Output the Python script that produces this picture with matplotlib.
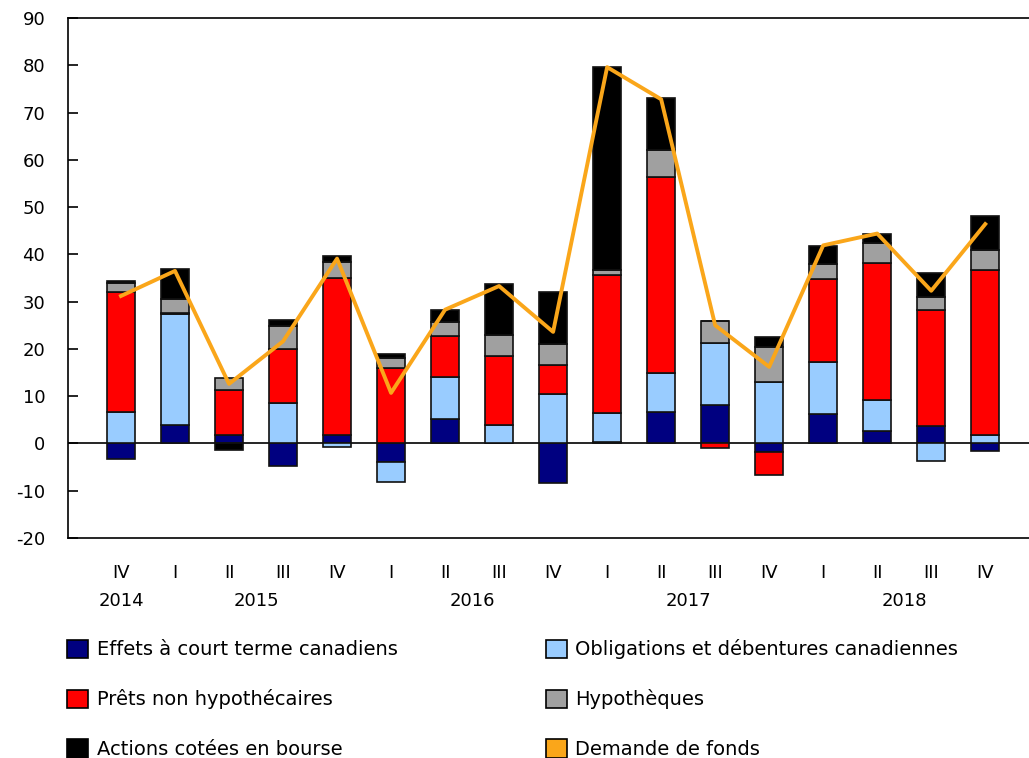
import numpy as np
import matplotlib
matplotlib.use("Agg")
import matplotlib.pyplot as plt
from matplotlib.patches import Patch
from matplotlib.transforms import blended_transform_factory

# quarters IV 2014 .. IV 2018
quarters = ["IV", "I", "II", "III", "IV", "I", "II", "III", "IV",
            "I", "II", "III", "IV", "I", "II", "III", "IV"]
years = ["2014", "2015", "2016", "2017", "2018"]
year_pos = [0, 2.5, 6.5, 10.5, 14.5]

# components (billions of dollars)
effets = [-3.2, 4.0, 1.8, -4.7, 1.8, -4.0, 5.1, 0.2, -8.3,
          0.4, 6.6, 8.2, -1.8, 6.2, 2.6, 3.8, -1.5]
obligations = [6.6, 23.3, 0.0, 8.5, -0.8, -4.1, 9.0, 3.7, 10.4,
               6.1, 8.2, 13.1, 13.0, 11.1, 6.7, -3.7, 1.8]
prets = [25.5, 0.3, 9.6, 11.5, 33.2, 16.0, 8.6, 14.5, 6.2,
         29.2, 41.5, -1.0, -4.8, 17.4, 28.9, 24.4, 34.9]
hypotheques = [1.9, 2.9, 2.5, 4.8, 3.4, 2.1, 2.9, 4.5, 4.5,
               1.0, 5.8, 4.6, 7.4, 3.2, 4.3, 2.8, 4.3]
actions = [0.4, 6.3, -1.4, 1.3, 1.3, 0.9, 2.7, 10.8, 11.0,
           42.9, 10.9, 0.0, 2.1, 3.8, 1.9, 5.1, 7.1]
demande = [31.2, 36.5, 12.6, 21.6, 39.1, 10.7, 28.3, 33.3, 23.6,
           79.6, 72.8, 25.0, 16.2, 41.9, 44.4, 32.3, 46.4]

series = [
    ("Effets à court terme canadiens", effets, "#000080"),
    ("Obligations et débentures canadiennes", obligations, "#99CCFF"),
    ("Prêts non hypothécaires", prets, "#FF0000"),
    ("Hypothèques", hypotheques, "#A0A0A0"),
    ("Actions cotées en bourse", actions, "#000000"),
]
line_color = "#FAA61A"

plt.rcParams["font.family"] = "DejaVu Sans"
plt.rcParams["font.size"] = 13
plt.rcParams["axes.unicode_minus"] = False

fig = plt.figure(figsize=(10.29, 7.58), dpi=100)
ax = fig.add_axes([0.0656, 0.2902, 0.9344, 0.6861])

x = np.arange(len(quarters))
pos_bottom = np.zeros(len(x))
neg_bottom = np.zeros(len(x))
handles = {}
for name, vals, col in series:
    v = np.array(vals)
    bottom = np.where(v >= 0, pos_bottom, neg_bottom)
    ax.bar(x, v, 0.52, bottom=bottom, color=col, edgecolor="#111111",
           linewidth=1.2, zorder=2)
    pos_bottom += np.where(v > 0, v, 0)
    neg_bottom += np.where(v < 0, v, 0)
    handles[name] = Patch(facecolor=col, edgecolor="black", linewidth=1.2)

ax.plot(x, demande, color=line_color, linewidth=2.8, zorder=3)
handles["Demande de fonds"] = Patch(facecolor=line_color, edgecolor="black", linewidth=1.2)

ax.axhline(0, color="black", linewidth=1.2, zorder=1)
ax.set_xlim(-0.99, 16.81)
ax.set_ylim(-20, 90)
ax.set_yticks(range(-20, 91, 10))
ax.tick_params(axis="y", direction="in", length=7, width=1.2, pad=16)
ax.set_xticks(x)
ax.set_xticklabels(quarters)
ax.tick_params(axis="x", length=0, pad=19)
for s in ["left", "top", "bottom"]:
    ax.spines[s].set_linewidth(1.2)
ax.spines["right"].set_visible(False)

tr = blended_transform_factory(ax.transData, fig.transFigure)
for yr, p in zip(years, year_pos):
    ax.text(p, 1 - 601 / 758, yr, transform=tr, ha="center", va="center")

order = ["Effets à court terme canadiens", "Prêts non hypothécaires",
         "Actions cotées en bourse", "Obligations et débentures canadiennes",
         "Hypothèques", "Demande de fonds"]
fig.legend([handles[k] for k in order], order, ncol=2, frameon=False,
           loc="upper left", bbox_to_anchor=(0.058, 0.167), fontsize=14,
           handlelength=1.05, handleheight=1.05, handletextpad=0.45,
           columnspacing=7.65, labelspacing=1.55, borderaxespad=0)

fig.savefig("out.png", dpi=100)
